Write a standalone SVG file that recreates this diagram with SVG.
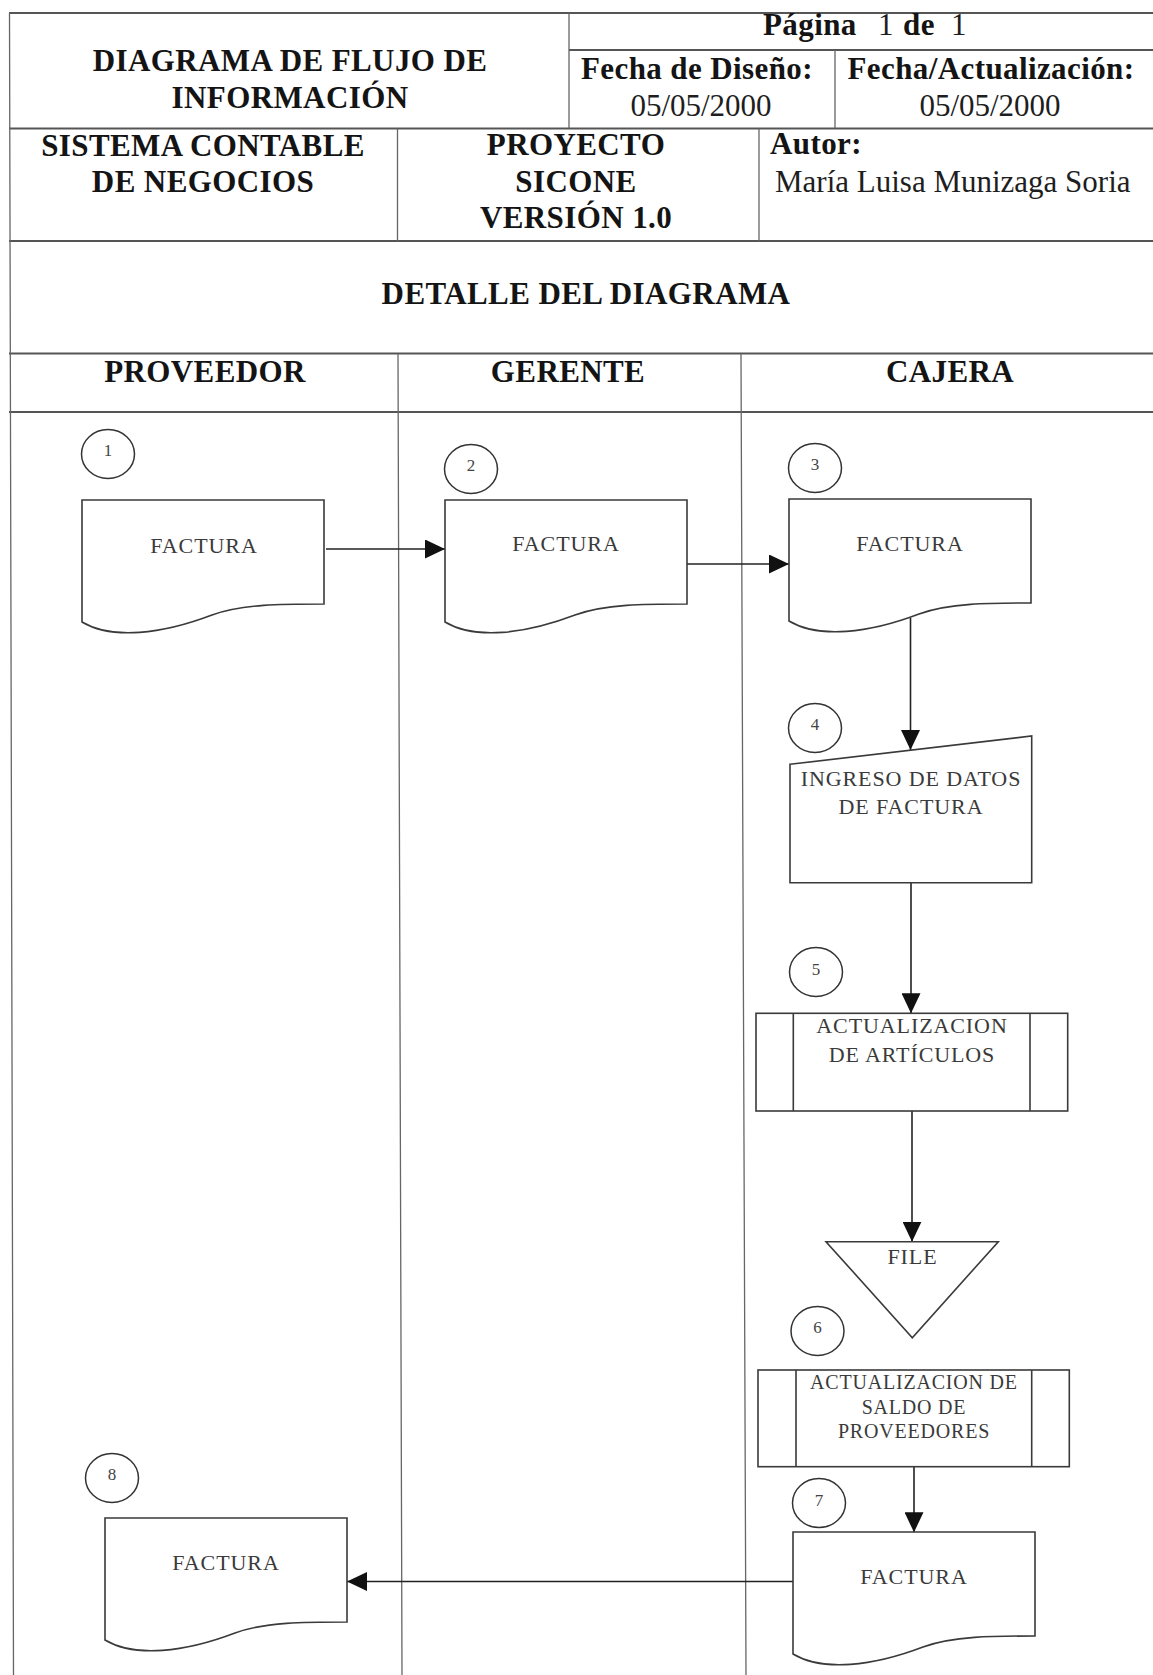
<svg xmlns="http://www.w3.org/2000/svg" width="1153" height="1675" viewBox="0 0 1153 1675">
<style>
.hb{font-family:"Liberation Serif","Times New Roman",serif;font-weight:bold;font-size:31px;letter-spacing:0.4px;fill:#141414}
.hr{font-family:"Liberation Serif","Times New Roman",serif;font-weight:normal;font-size:31px;letter-spacing:0;fill:#1e1e1e}
.c{text-anchor:middle}
.tl{stroke:#555;stroke-width:2;fill:none}
.tv{stroke:#666;stroke-width:1.3;fill:none}
.shape{fill:#fff;stroke:#3a3a3a;stroke-width:1.6}
.circ{fill:none;stroke:#333;stroke-width:1.5}
.num{font-family:"Liberation Serif","Times New Roman",serif;font-size:17px;fill:#444;text-anchor:middle}
.nt{font-family:"Liberation Serif","Times New Roman",serif;font-size:22px;letter-spacing:0.9px;fill:#3a3a3a;text-anchor:middle}
.nt2{font-family:"Liberation Serif","Times New Roman",serif;font-size:20px;letter-spacing:0.8px;fill:#3a3a3a;text-anchor:middle}
.conn{stroke:#222;stroke-width:1.6;fill:none;marker-end:url(#ah)}
</style>
<defs>
<marker id="ah" markerUnits="userSpaceOnUse" viewBox="0 0 20 19" refX="20" refY="9.5" markerWidth="20" markerHeight="19" orient="auto"><path d="M0,0 L20,9.5 L0,19 Z" fill="#111"/></marker>
<path id="docshape" d="M0,0 H242 V104 C200,104 160,104 130,115 C80,134 30,140 0,122 Z"/>
</defs>
<rect x="0" y="0" width="1153" height="1675" fill="#fff"/>

<g id="table">
<path class="tl" d="M9,13 H1153 M569,50 H1153 M9,128.5 H1153 M9,241 H1153 M9,353.5 H1153 M9,412 H1153"/>
<path class="tv" d="M9.5,13 L13.5,1675 M569,13 V128.5 M835,50 V128.5 M397.5,128.5 V241 M759,128.5 V241 M398,354 L402,1675 M741,354 L746,1675"/>
<text class="hb c" x="290" y="71">DIAGRAMA DE FLUJO DE</text>
<text class="hb c" x="290" y="108">INFORMACIÓN</text>
<text class="hb" y="35"><tspan x="763">Página</tspan><tspan class="hr" x="878">1</tspan><tspan x="903">de</tspan><tspan class="hr" x="951">1</tspan></text>
<text class="hb c" x="697" y="79">Fecha de Diseño:</text>
<text class="hr c" x="701" y="116">05/05/2000</text>
<text class="hb c" x="991" y="79">Fecha/Actualización:</text>
<text class="hr c" x="990" y="116">05/05/2000</text>
<text class="hb c" x="203" y="156">SISTEMA CONTABLE</text>
<text class="hb c" x="203" y="192">DE NEGOCIOS</text>
<text class="hb c" x="576" y="155">PROYECTO</text>
<text class="hb c" x="576" y="192">SICONE</text>
<text class="hb c" x="576" y="228">VERSIÓN 1.0</text>
<text class="hb" x="770" y="154">Autor:</text>
<text class="hr" x="775" y="192">María Luisa Munizaga Soria</text>
<text class="hb c" x="586" y="304">DETALLE DEL DIAGRAMA</text>
<text class="hb c" x="205" y="382">PROVEEDOR</text>
<text class="hb c" x="568" y="382">GERENTE</text>
<text class="hb c" x="950" y="382">CAJERA</text>
</g>

<g id="connectors">
<path class="conn" d="M326,549 H445"/>
<path class="conn" d="M687,564 H789"/>
<path class="conn" d="M910.5,618 V750"/>
<path class="conn" d="M911,882.7 V1013.3"/>
<path class="conn" d="M912,1111 V1241.7"/>
<path class="conn" d="M914,1466.7 V1532.3"/>
<path class="conn" d="M793,1581.5 H347"/>
</g>

<g id="node1">
<ellipse class="circ" cx="108" cy="454" rx="26.5" ry="24.5"/>
<text class="num" x="108" y="456">1</text>
<use href="#docshape" class="shape" transform="translate(82,500)"/>
<text class="nt" x="204" y="553">FACTURA</text>
</g>
<g id="node2">
<ellipse class="circ" cx="471" cy="469" rx="26.5" ry="24.5"/>
<text class="num" x="471" y="471">2</text>
<use href="#docshape" class="shape" transform="translate(445,500)"/>
<text class="nt" x="566" y="551">FACTURA</text>
</g>
<g id="node3">
<ellipse class="circ" cx="815" cy="468" rx="26.5" ry="24.5"/>
<text class="num" x="815" y="470">3</text>
<use href="#docshape" class="shape" transform="translate(789,499)"/>
<text class="nt" x="910" y="551">FACTURA</text>
</g>
<g id="node4">
<ellipse class="circ" cx="815" cy="728" rx="26.5" ry="24.5"/>
<text class="num" x="815" y="730">4</text>
<path class="shape" d="M790,764.3 L1031.7,736 V882.7 H790 Z"/>
<text class="nt" x="911" y="786">INGRESO DE DATOS</text>
<text class="nt" x="911" y="814">DE FACTURA</text>
</g>
<g id="node5">
<ellipse class="circ" cx="816" cy="972" rx="26.5" ry="24.5"/>
<text class="num" x="816" y="975">5</text>
<rect class="shape" x="756" y="1013.3" width="311.7" height="97.7"/>
<path class="shape" d="M793.3,1013.3 V1111 M1030,1013.3 V1111"/>
<text class="nt" x="912" y="1033">ACTUALIZACION</text>
<text class="nt" x="912" y="1062">DE ARTÍCULOS</text>
</g>
<g id="file">
<path class="shape" d="M826,1241.7 H998.3 L912.3,1337.7 Z"/>
<text class="nt" x="912.5" y="1264">FILE</text>
</g>
<g id="node6">
<ellipse class="circ" cx="817.5" cy="1331" rx="26.5" ry="24.5"/>
<text class="num" x="817.5" y="1333">6</text>
<rect class="shape" x="758" y="1370" width="311.3" height="96.7"/>
<path class="shape" d="M796,1370 V1466.7 M1031.7,1370 V1466.7"/>
<text class="nt2" x="914" y="1389">ACTUALIZACION DE</text>
<text class="nt2" x="914" y="1414">SALDO DE</text>
<text class="nt2" x="914" y="1438">PROVEEDORES</text>
</g>
<g id="node7">
<ellipse class="circ" cx="819" cy="1503" rx="26.5" ry="24.5"/>
<text class="num" x="819" y="1506">7</text>
<use href="#docshape" class="shape" transform="translate(793,1532)"/>
<text class="nt" x="914" y="1584">FACTURA</text>
</g>
<g id="node8">
<ellipse class="circ" cx="112" cy="1478" rx="26.5" ry="24.5"/>
<text class="num" x="112" y="1480">8</text>
<use href="#docshape" class="shape" transform="translate(105,1518)"/>
<text class="nt" x="226" y="1570">FACTURA</text>
</g>
</svg>
